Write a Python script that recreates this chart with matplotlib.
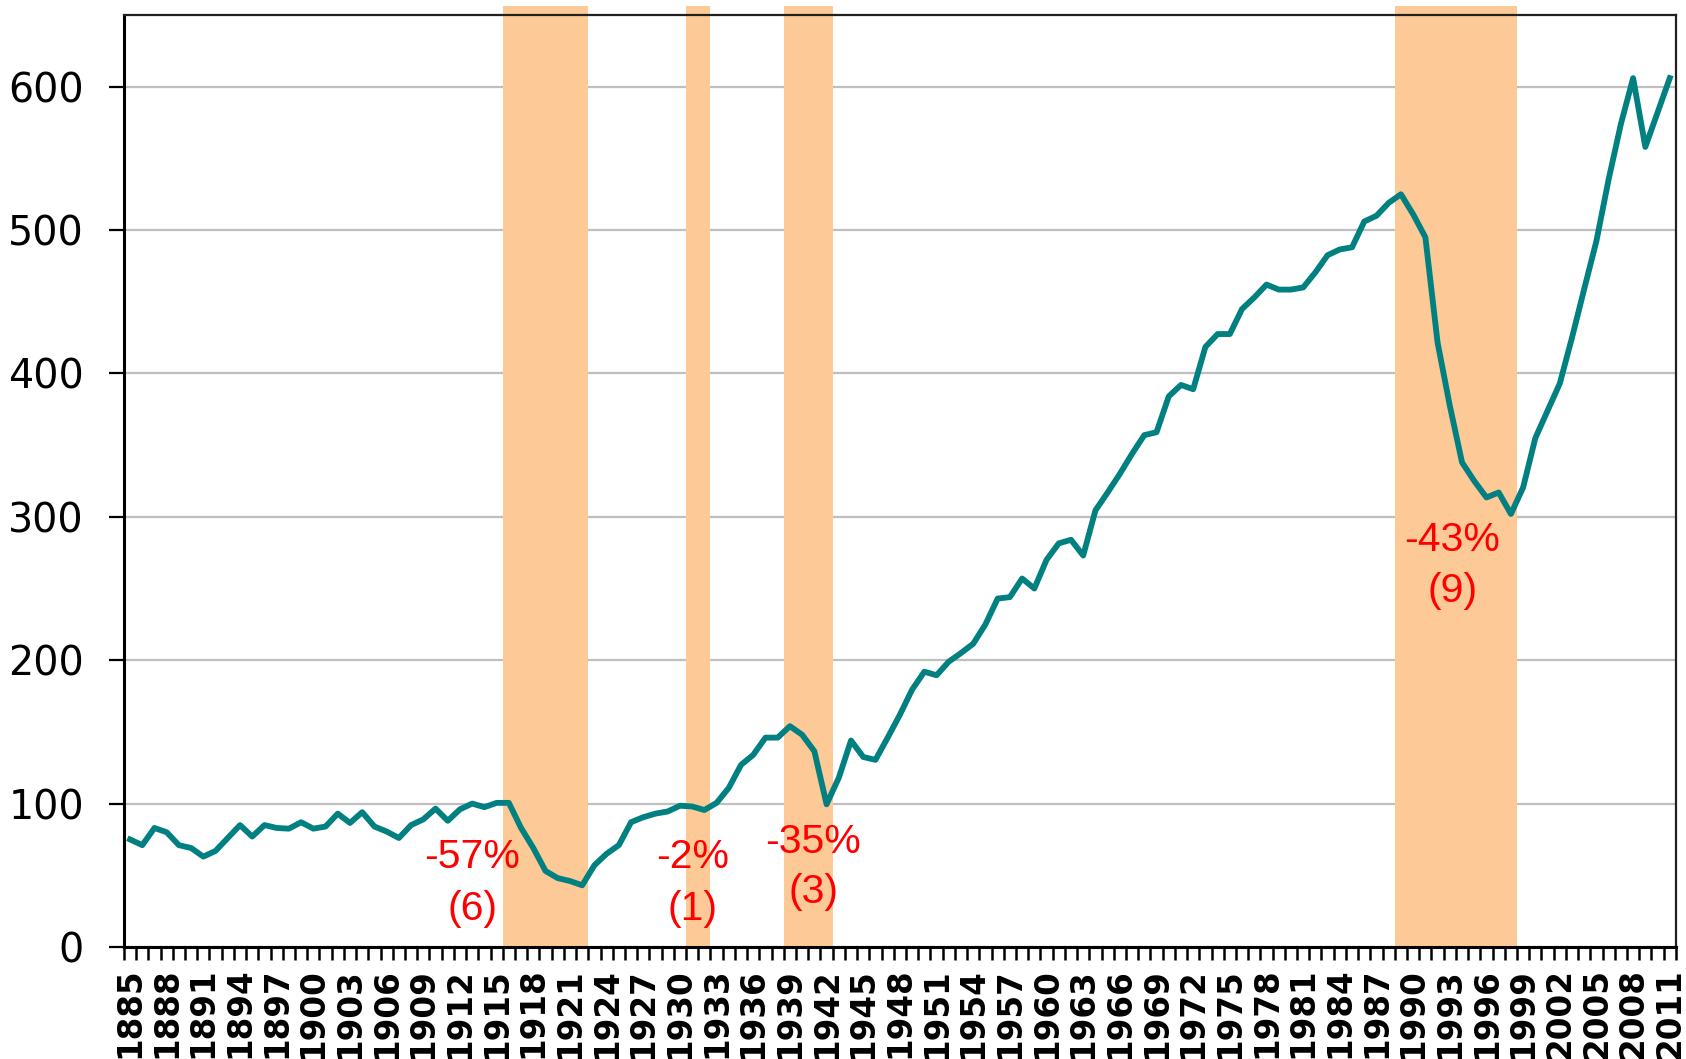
import matplotlib
matplotlib.use("Agg")
import matplotlib.pyplot as plt
from matplotlib.ticker import FixedLocator, NullFormatter

# annual index, 1885..2011 (one category per year)
years = list(range(1885, 2012))
values = [
    75, 71, 83, 80, 71, 69, 63, 67, 76, 85,            # 1885-1894
    77, 85, 83, 82.5, 87, 82.5, 84, 93, 86.5, 94,      # 1895-1904
    84, 80.5, 76, 85, 89, 96.5, 88, 96, 100, 97.5,     # 1905-1914
    100.5, 100.5, 83, 69, 53, 48, 46, 43, 57, 65,      # 1915-1924
    71, 87, 90.5, 93, 94.5, 98.5, 98, 95.5, 100.5, 111,  # 1925-1934
    127, 134, 146, 146, 154, 148, 136.5, 99.5, 118, 144,  # 1935-1944
    132.5, 130.5, 146, 162, 179.5, 192, 189.5, 199, 205, 211.5,  # 1945-1954
    225, 243, 244, 257, 250, 270, 281.5, 284, 273, 304.5,  # 1955-1964
    317, 330, 344, 357, 359, 384, 392, 389, 418.5, 427.5,  # 1965-1974
    427.5, 445, 453, 462, 458.5, 458.5, 460, 470.5, 482.5, 486.5,  # 1975-1984
    488, 506, 510, 519, 525, 511, 495, 421.5, 377.5, 338,  # 1985-1994
    325, 313.5, 317, 302, 320.5, 355, 374, 393, 425, 459,  # 1995-2004
    492.5, 535.5, 574, 606, 558, 582, 606,             # 2005-2011
]

# shaded decline periods (first and last year)
shade_first = [1916, 1931, 1939, 1989]
shade_last = [1922, 1932, 1942, 1998]

# drawdown labels
lab_pct = ["-57%", "-2%", "-35%", "-43%"]
lab_yrs = ["(6)", "(1)", "(3)", "(9)"]
lab_x = [1913.0, 1931.0, 1940.9, 1993.2]
lab_y_pct = [62.8, 62.8, 73.3, 284]
lab_y_yrs = [26.5, 26.5, 38, 248.4]

LINE = "#008080"
SHADE = "#FDCA97"

fig = plt.figure(figsize=(16.86, 10.59), dpi=100)
ax = fig.add_axes([0.0735, 0.1058, 0.9205, 0.88])

for a, b in zip(shade_first, shade_last):
    ax.axvspan(a - 0.5, b + 0.5, ymin=0, ymax=1.0097, color=SHADE, lw=0,
               zorder=1, clip_on=False)

ax.plot(years, values, color=LINE, lw=4.2, zorder=3, solid_joinstyle="round")

for x, yp, yy, tp, ty in zip(lab_x, lab_y_pct, lab_y_yrs, lab_pct, lab_yrs):
    ax.text(x, yp, tp, color="red", fontsize=29.5, family="Liberation Sans",
            ha="center", va="center", zorder=4)
    ax.text(x, yy, ty, color="red", fontsize=29.5, family="Liberation Sans",
            ha="center", va="center", zorder=4)

ax.set_xlim(years[0] - 0.5, years[-1] + 0.5)
ax.set_ylim(0, 650)

# y axis
ax.set_yticks(range(0, 601, 100))
ax.yaxis.grid(True, color="#BFBFBF", lw=1.6, zorder=0)
ax.set_axisbelow(True)
ax.tick_params(axis="y", direction="out", length=10.8, width=1.6, pad=18,
               labelsize=28.5)
for t in ax.get_yticklabels():
    t.set_family("DejaVu Sans")

# x axis: tick marks between years, labels every 3 years
ax.xaxis.set_minor_locator(FixedLocator([y - 0.5 for y in years] + [years[-1] + 0.5]))
ax.xaxis.set_minor_formatter(NullFormatter())
ax.set_xticks(years[::3])
ax.set_xticklabels([str(y) for y in years[::3]], rotation=90,
                   fontsize=23.5, fontweight="bold", family="DejaVu Sans")
ax.tick_params(axis="x", which="major", length=0, pad=15)
ax.tick_params(axis="x", which="minor", direction="out", length=9, width=1.8)

for side in ["left", "bottom"]:
    ax.spines[side].set_linewidth(2.2)
    ax.spines[side].set_color("black")
for side in ["top", "right"]:
    ax.spines[side].set_linewidth(1.6)
    ax.spines[side].set_color("#202020")
for s in ax.spines.values():
    s.set_zorder(5)

fig.savefig("out.png", dpi=100)
